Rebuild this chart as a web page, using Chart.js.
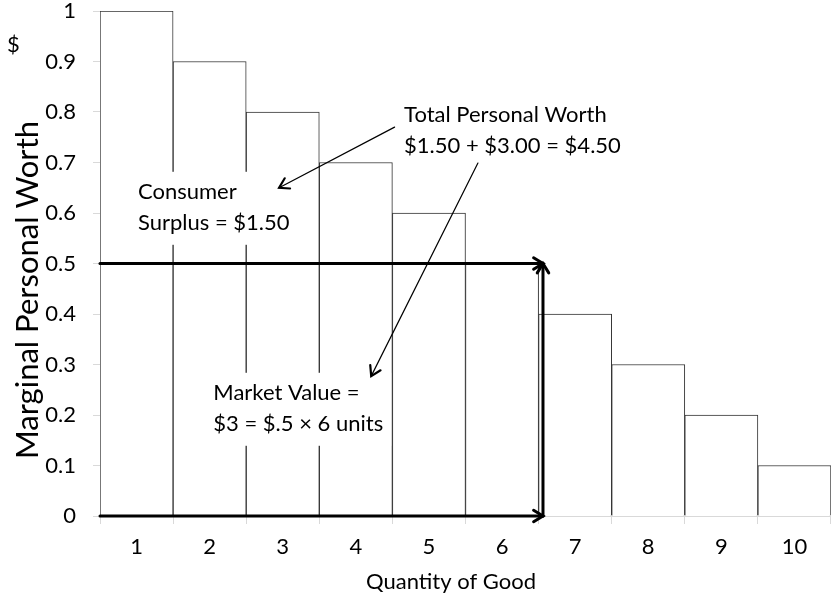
<!DOCTYPE html>
<html>
<head>
<meta charset="utf-8">
<script src="https://cdn.jsdelivr.net/npm/chart.js@4"></script>
<style>
  body { margin: 0; background: #fff; }
  canvas { display: block; }
</style>
</head>
<body>
<canvas id="worthChart" width="831" height="599"></canvas>
<script>
// values
const quantities = ["1", "2", "3", "4", "5", "6", "7", "8", "9", "10"];
const marginalWorth = [1, 0.9, 0.8, 0.7, 0.6, 0.5, 0.4, 0.3, 0.2, 0.1];
const yTicks = ["0", "0.1", "0.2", "0.3", "0.4", "0.5", "0.6", "0.7", "0.8", "0.9", "1"];

const marketPrice = 0.5;
const marketEdge = 5.56;   // category index where the market arrows stop

// annotation notes: left x (category index), centre of first line (value)
const surplusLines = ["Consumer", "Surplus = $1.50"];
const surplusAt = [0.02, 0.642];
const totalLines = ["Total Personal Worth", "$1.50 + $3.00 = $4.50"];
const totalAt = [3.66, 0.794];
const marketLines = ["Market Value =", "$3 = $.5 \u00d7 6 units"];
const marketAt = [1.05, 0.244];

// pointer lines [fromX, fromY, toX, toY]
const pointerToSurplus = [3.53, 0.77, 1.95, 0.65];
const pointerToMarket = [4.67, 0.699, 3.21, 0.277];

const FONT = "Lato";

function arrowHead(ctx, x1, y1, x2, y2, size) {
    const a = Math.atan2(y2 - y1, x2 - x1);
    ctx.beginPath();
    ctx.moveTo(x2 - size * Math.cos(a - 0.55), y2 - size * Math.sin(a - 0.55));
    ctx.lineTo(x2, y2);
    ctx.lineTo(x2 - size * Math.cos(a + 0.55), y2 - size * Math.sin(a + 0.55));
    ctx.stroke();
}

function arrow(ctx, x1, y1, x2, y2, width, headWidth, size) {
    ctx.lineWidth = width;
    ctx.beginPath();
    ctx.moveTo(x1, y1);
    ctx.lineTo(x2, y2);
    ctx.stroke();
    ctx.lineWidth = headWidth;
    arrowHead(ctx, x1, y1, x2, y2, size);
}

const annotations = {
    id: "annotations",
    afterDatasetsDraw(chart) {
        const ctx = chart.ctx;
        const xs = chart.scales.x;
        const ys = chart.scales.y;
        const area = chart.chartArea;
        const px = v => xs.getPixelForValue(v);
        const py = v => ys.getPixelForValue(v);
        const lineGap = 31;

        ctx.save();
        ctx.font = "22px " + FONT;
        ctx.textBaseline = "middle";
        ctx.textAlign = "left";

        // white boxes behind the notes
        const notes = [
            [surplusLines, surplusAt],
            [totalLines, totalAt],
            [marketLines, marketAt]
        ];
        notes.forEach(([lines, at]) => {
            const x = px(at[0]);
            const y = py(at[1]);
            const w = Math.max(...lines.map(l => ctx.measureText(l).width));
            ctx.fillStyle = "#fff";
            ctx.fillRect(x - 8, y - 20, w + 16, lineGap * (lines.length - 1) + 42);
        });

        // market arrows
        ctx.strokeStyle = "#000";
        ctx.lineCap = "round";
        const xe = px(marketEdge);
        arrow(ctx, area.left, py(marketPrice), xe, py(marketPrice), 3, 3, 11);
        arrow(ctx, area.left, py(0), xe, py(0), 3, 3, 11);
        arrow(ctx, xe, py(0), xe, py(marketPrice), 3, 3, 11);

        // pointers
        [pointerToSurplus, pointerToMarket].forEach(p => {
            arrow(ctx, px(p[0]), py(p[1]), px(p[2]), py(p[3]), 1.2, 2.2, 11);
        });

        // note text
        ctx.fillStyle = "#000";
        notes.forEach(([lines, at]) => {
            lines.forEach((l, i) => ctx.fillText(l, px(at[0]), py(at[1]) + i * lineGap));
        });

        // axis titles and unit
        ctx.font = "22px " + FONT;
        ctx.fillText("$", 7, 45);

        ctx.textAlign = "center";
        ctx.fillText("Quantity of Good", 451, 582);

        ctx.translate(28, 290);
        ctx.rotate(-Math.PI / 2);
        ctx.font = "31px " + FONT;
        ctx.fillText("Marginal Personal Worth", 0, 0);
        ctx.restore();
    }
};

Chart.defaults.color = "#000";
Chart.defaults.font.family = FONT;

new Chart(document.getElementById("worthChart"), {
    type: "bar",
    data: {
        labels: quantities,
        datasets: [
            {
                data: marginalWorth,
                backgroundColor: "#fff",
                borderColor: "#333",
                borderWidth: 1,
                categoryPercentage: 1,
                barPercentage: 1
            }
        ]
    },
    options: {
        responsive: false,
        animation: false,
        layout: {
            padding: { top: 11, right: -3, left: 0, bottom: 0 }
        },
        plugins: {
            legend: { display: false },
            tooltip: { enabled: false }
        },
        scales: {
            x: {
                offset: true,
                grid: {
                    offset: true,
                    drawOnChartArea: false,
                    tickLength: 8,
                    color: "#d9d9d9"
                },
                border: { color: "#d9d9d9" },
                ticks: {
                    font: { size: 22 },
                    padding: 10,
                    maxRotation: 0
                },
                afterFit(scale) {
                    scale.height = 83;
                    scale.paddingLeft = 0;
                    scale.paddingRight = 0;
                }
            },
            y: {
                min: 0,
                max: 1,
                grid: {
                    drawOnChartArea: false,
                    tickLength: 7,
                    color: "#d9d9d9"
                },
                border: { color: "#d9d9d9" },
                ticks: {
                    stepSize: 0.1,
                    font: { size: 22 },
                    padding: 17,
                    callback: (v, i) => yTicks[i]
                },
                afterFit(scale) {
                    scale.width = 100;
                    scale.paddingTop = 0;
                    scale.paddingBottom = 0;
                }
            }
        }
    },
    plugins: [annotations]
});
</script>
</body>
</html>
